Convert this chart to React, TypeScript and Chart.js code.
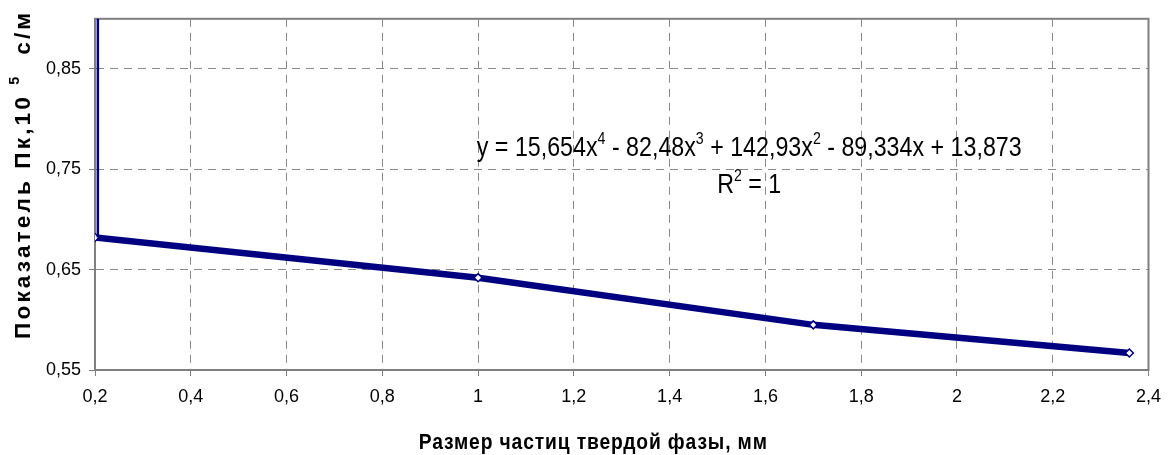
import React, { useEffect, useRef } from "react";
import { Chart, registerables } from "chart.js";

Chart.register(...registerables);

// ---- data ----
const sizeMm = [0.2, 1.0, 1.7, 2.36];
const pkValues = [0.682, 0.642, 0.595, 0.567];
const trendX = [0.206, 0.206];
const trendY = [0.93, 0.682];
const xMin = 0.2;
const xMax = 2.4;
const xStep = 0.2;
const yMin = 0.55;
const yMax = 0.9;
const yTicks = [0.55, 0.65, 0.75, 0.85];
const equationParts = [
  { t: "y = 15,654x", sup: false },
  { t: "4", sup: true },
  { t: " - 82,48x", sup: false },
  { t: "3", sup: true },
  { t: " + 142,93x", sup: false },
  { t: "2", sup: true },
  { t: " - 89,334x + 13,873", sup: false },
];
const r2Parts = [
  { t: "R", sup: false },
  { t: "2", sup: true },
  { t: " = 1", sup: false },
];
const yTitleParts = [
  { t: "Показатель Пк,10 ", sup: false },
  { t: "5", sup: true },
  { t: "  с/м", sup: false },
];
const xTitleParts = [{ t: "Размер частиц твердой фазы, мм", sup: false }];

const SANS = '"Liberation Sans", Arial, sans-serif';

const fmt = (v: number) => {
  const r = Math.round(v * 100) / 100;
  return String(r).replace(".", ",");
};

type Part = { t: string; sup: boolean };

function drawParts(
  ctx: CanvasRenderingContext2D,
  parts: Part[],
  cx: number,
  baseline: number,
  mainFont: string,
  supFont: string,
  supRise: number,
  sx: number
) {
  let total = 0;
  for (const p of parts) {
    ctx.font = p.sup ? supFont : mainFont;
    total += ctx.measureText(p.t).width;
  }
  ctx.save();
  ctx.translate(cx - (total * sx) / 2, baseline);
  ctx.scale(sx, 1);
  let x = 0;
  ctx.textAlign = "left";
  ctx.textBaseline = "alphabetic";
  for (const p of parts) {
    ctx.font = p.sup ? supFont : mainFont;
    ctx.fillText(p.t, x, p.sup ? -supRise : 0);
    x += ctx.measureText(p.t).width;
  }
  ctx.restore();
}

const decorPlugin = {
  id: "decor",
  beforeDatasetsDraw(chart: any) {
    const { ctx, chartArea: a } = chart;
    ctx.save();
    ctx.strokeStyle = "#7f7f7f";
    ctx.lineWidth = 2;
    ctx.setLineDash([]);
    ctx.strokeRect(a.left, a.top, a.right - a.left, a.bottom - a.top);
    ctx.restore();
  },
  afterDraw(chart: any) {
    const { ctx, chartArea: a, height } = chart;
    const w = a.right - a.left;
    const h = a.bottom - a.top;
    ctx.save();
    ctx.fillStyle = "#000";
    // equation
    const eqCx = a.left + w * 0.621;
    drawParts(ctx, equationParts, eqCx, a.top + h * 0.39, `28px ${SANS}`, `17px ${SANS}`, 12, 0.83);
    drawParts(ctx, r2Parts, eqCx, a.top + h * 0.495, `28px ${SANS}`, `17px ${SANS}`, 12, 0.83);

    // x title
    ctx.save();
    (ctx as any).letterSpacing = "1px";
    drawParts(ctx, xTitleParts, a.left + w * 0.473, height - 6, `bold 22px ${SANS}`, `bold 14px ${SANS}`, 0, 0.875);
    ctx.restore();

    // y title
    ctx.save();
    ctx.translate(30, a.top + h * 0.443);
    ctx.rotate(-Math.PI / 2);
    (ctx as any).letterSpacing = "3px";
    drawParts(ctx, yTitleParts, 0, 0, `bold 22px ${SANS}`, `bold 14px ${SANS}`, 11, 1.03);
    ctx.restore();

    ctx.restore();
  },
};

export default function App() {
  const ref = useRef<HTMLCanvasElement | null>(null);

  useEffect(() => {
    if (!ref.current) return;
    const chart = new Chart(ref.current, {
      type: "line",
      data: {
        datasets: [
          {
            label: "trend",
            data: trendX.map((x, i) => ({ x, y: trendY[i] })),
            borderColor: "#000080",
            borderWidth: 2.5,
            pointRadius: 0,
            tension: 0,
            fill: false,
          },
          {
            label: "Пк",
            data: sizeMm.map((x, i) => ({ x, y: pkValues[i] })),
            borderColor: "#000080",
            borderWidth: 6.5,
            pointStyle: "rectRot",
            pointRadius: 4,
            pointBackgroundColor: "#ffffff",
            pointBorderColor: "#000080",
            pointBorderWidth: 1.5,
            tension: 0,
            fill: false,
          },
        ],
      },
      options: {
        responsive: false,
        animation: false,
        events: [],
        layout: { padding: { top: 15, right: 17, left: 0, bottom: 0 } },
        plugins: {
          legend: { display: false },
          tooltip: { enabled: false },
        },
        scales: {
          x: {
            type: "linear",
            min: xMin,
            max: xMax,
            afterFit: (s: any) => {
              s.height = 85;
            },
            ticks: {
              stepSize: xStep,
              padding: 10,
              color: "#000",
              font: { family: SANS, size: 18 },
              callback: (v: any) => fmt(Number(v)),
            },
            grid: {
              color: "#8a8a8a",
              lineWidth: 1,
              tickLength: 6,
              tickColor: "#7f7f7f",
            },
            border: { display: true, color: "#7f7f7f", width: 2, dash: [8, 6] },
          },
          y: {
            type: "linear",
            min: yMin,
            max: yMax,
            afterFit: (s: any) => {
              s.width = 95;
            },
            afterBuildTicks: (s: any) => {
              s.ticks = yTicks.map((v) => ({ value: v }));
            },
            ticks: {
              padding: 8,
              color: "#000",
              font: { family: SANS, size: 18 },
              callback: (v: any) => fmt(Number(v)),
            },
            grid: {
              color: "#8a8a8a",
              lineWidth: 1,
              tickLength: 6,
              tickColor: "#7f7f7f",
            },
            border: { display: true, color: "#7f7f7f", width: 2, dash: [8, 6] },
          },
        },
      },
      plugins: [decorPlugin],
    });
    return () => chart.destroy();
  }, []);

  return (
    <div style={{ position: "absolute", left: 0, top: 0, width: 1171, height: 455, background: "#fff" }}>
      <canvas ref={ref} width={1171} height={455} style={{ display: "block" }} />
    </div>
  );
}
